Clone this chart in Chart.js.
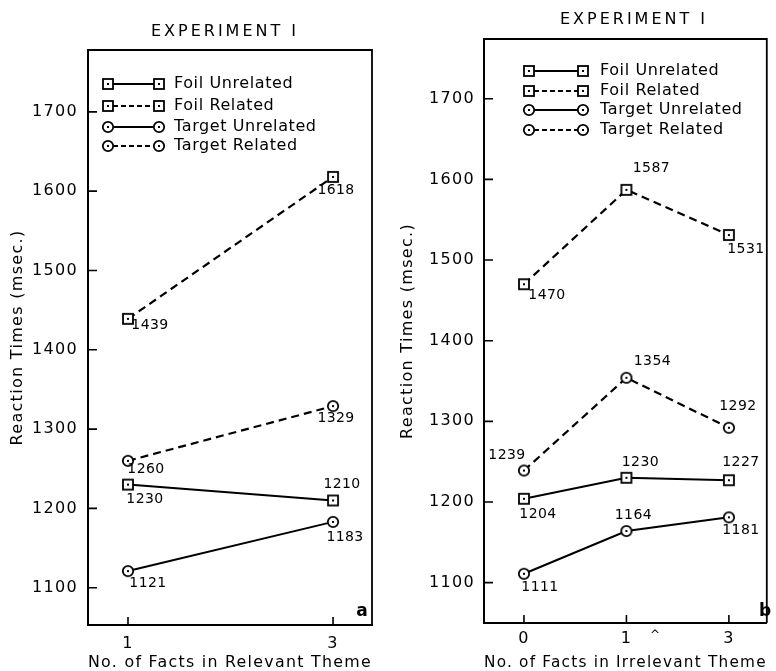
<!DOCTYPE html>
<html>
<head>
<meta charset="utf-8">
<title>Experiment I reaction times</title>
<script src="https://cdn.jsdelivr.net/npm/chart.js@4.4.0/dist/chart.umd.min.js"></script>
<style>
  html, body { margin: 0; padding: 0; background: #fff; }
  #wrap { position: relative; width: 776px; height: 671px; overflow: hidden; }
  canvas { position: absolute; top: 0; }
  #chartA { left: 0; }
  #chartB { left: 390px; }
</style>
</head>
<body>
<div id="wrap">
  <canvas id="chartA" width="390" height="671"></canvas>
  <canvas id="chartB" width="386" height="671"></canvas>
</div>
<script>
// Panel a: facts in the relevant theme
const factsA = ['1', '3'];
const foilUnrelatedA = [1230, 1210];
const foilRelatedA = [1439, 1618];
const targetUnrelatedA = [1121, 1183];
const targetRelatedA = [1260, 1329];

// Panel b: facts in the irrelevant theme
const factsB = ['0', '1', '3'];
const foilUnrelatedB = [1204, 1230, 1227];
const foilRelatedB = [1470, 1587, 1531];
const targetUnrelatedB = [1111, 1164, 1181];
const targetRelatedB = [1239, 1354, 1292];

const yTicks = [1100, 1200, 1300, 1400, 1500, 1600, 1700];
const seriesNames = ['Foil Unrelated', 'Foil Related', 'Target Unrelated', 'Target Related'];

// look of each series (same order as seriesNames)
const seriesStyles = [
    { marker: 'square', dash: [] },
    { marker: 'square', dash: [8, 5] },
    { marker: 'circle', dash: [] },
    { marker: 'circle', dash: [8, 5] }
];

// where each value label sits relative to its point
const labelOffsetsA = [
    [[17, 15], [9, -16]],
    [[22, 6], [3, 13]],
    [[20, 12], [12, 15]],
    [[18, 9], [3, 12]]
];
const labelOffsetsB = [
    [[14, 16], [14, -15], [12, -18]],
    [[23, 11], [25, -21], [17, 14]],
    [[16, 14], [7, -16], [12, 13]],
    [[-17, -15], [26, -16], [9, -21]]
];

const FONT = '"DejaVu Sans", "Liberation Sans", sans-serif';
Chart.defaults.font.family = FONT;
Chart.defaults.color = '#000';

// small marker images: open square / open circle with a centre dot
function makeMarker(shape) {
    const c = document.createElement('canvas');
    c.width = 14;
    c.height = 14;
    const g = c.getContext('2d');
    g.fillStyle = '#fff';
    g.strokeStyle = '#000';
    g.lineWidth = 1.8;
    if (shape === 'square') {
        g.fillRect(2, 2, 10, 10);
        g.strokeRect(2, 2, 10, 10);
    } else {
        g.beginPath();
        g.arc(7, 7, 5.2, 0, Math.PI * 2);
        g.fill();
        g.stroke();
    }
    g.fillStyle = '#000';
    g.fillRect(6, 6, 2, 2);
    return c;
}
const markers = { square: makeMarker('square'), circle: makeMarker('circle') };

function makeDecoPlugin(cfg) {
    return {
        id: 'panelDeco',
        beforeDraw(chart) {
            chart.ctx.letterSpacing = '1.3px';
        },
        beforeDatasetsDraw(chart) {
            const { ctx, chartArea: a, scales } = chart;
            ctx.save();
            ctx.strokeStyle = '#000';
            // top and right edges of the frame
            ctx.lineWidth = 1.8;
            ctx.beginPath();
            ctx.moveTo(a.left, a.top);
            ctx.lineTo(a.right, a.top);
            ctx.lineTo(a.right, a.bottom);
            ctx.stroke();
            // inward tick marks
            ctx.lineWidth = 1.6;
            ctx.beginPath();
            scales.y.ticks.forEach(t => {
                const py = scales.y.getPixelForValue(t.value);
                ctx.moveTo(a.left, py);
                ctx.lineTo(a.left + 9, py);
            });
            scales.x.ticks.forEach(t => {
                const px = scales.x.getPixelForValue(t.value);
                ctx.moveTo(px, a.bottom);
                ctx.lineTo(px, a.bottom - 8);
            });
            ctx.stroke();
            ctx.restore();
        },
        afterDatasetsDraw(chart) {
            const ctx = chart.ctx;
            ctx.save();
            ctx.fillStyle = '#000';
            ctx.font = '14px ' + FONT;
            ctx.letterSpacing = '0.4px';
            ctx.textAlign = 'center';
            ctx.textBaseline = 'middle';
            chart.data.datasets.forEach((ds, s) => {
                const meta = chart.getDatasetMeta(s);
                meta.data.forEach((pt, i) => {
                    const off = cfg.labelOffsets[s][i];
                    ctx.fillText(String(ds.data[i].y), pt.x + off[0], pt.y + off[1]);
                });
            });
            ctx.restore();
        },
        afterDraw(chart) {
            const ctx = chart.ctx;
            const lg = cfg.legend;
            ctx.save();
            ctx.fillStyle = '#000';
            ctx.strokeStyle = '#000';
            ctx.textBaseline = 'middle';

            // legend inside the frame
            seriesNames.forEach((name, s) => {
                const y = lg.rows[s];
                const st = seriesStyles[s];
                ctx.lineWidth = 1.8;
                ctx.setLineDash(st.dash.length ? [5, 3] : []);
                ctx.beginPath();
                ctx.moveTo(lg.x0 + 5, y);
                ctx.lineTo(lg.x1 - 5, y);
                ctx.stroke();
                ctx.setLineDash([]);
                const img = markers[st.marker];
                ctx.drawImage(img, lg.x0 - img.width / 2, y - img.height / 2);
                ctx.drawImage(img, lg.x1 - img.width / 2, y - img.height / 2);
                ctx.font = '16px ' + FONT;
                ctx.letterSpacing = '0.6px';
                ctx.textAlign = 'left';
                ctx.fillText(name, lg.textX, y);
            });

            // panel heading
            ctx.font = '16px ' + FONT;
            ctx.letterSpacing = '3px';
            ctx.textAlign = 'center';
            ctx.fillText(cfg.title, cfg.titleX, cfg.titleY);

            // panel letter
            ctx.font = 'bold 17px ' + FONT;
            ctx.letterSpacing = '0px';
            ctx.fillText(cfg.letter, cfg.letterX, cfg.letterY);

            // stray mark under the axis
            if (cfg.mark) {
                ctx.font = '12px ' + FONT;
                ctx.fillText(cfg.mark.text, cfg.mark.x, cfg.mark.y);
            }
            ctx.restore();
        }
    };
}

function buildChart(id, cats, values, cfg) {
    const datasets = values.map((vals, s) => ({
        label: seriesNames[s],
        data: vals.map((v, i) => ({ x: i, y: v })),
        borderColor: '#000',
        backgroundColor: '#fff',
        borderWidth: seriesStyles[s].dash.length ? 2.2 : 2,
        borderDash: seriesStyles[s].dash,
        pointStyle: markers[seriesStyles[s].marker],
        pointRadius: 7,
        pointHoverRadius: 7,
        tension: 0,
        fill: false
    }));

    return new Chart(document.getElementById(id), {
        type: 'line',
        data: { datasets },
        options: {
            responsive: false,
            animation: false,
            events: [],
            layout: { padding: cfg.padding },
            scales: {
                x: {
                    type: 'linear',
                    min: cfg.xMin,
                    max: cfg.xMax,
                    afterFit: sc => { sc.height = cfg.xHeight; },
                    afterBuildTicks: sc => { sc.ticks = cats.map((c, i) => ({ value: i })); },
                    ticks: {
                        callback: v => cats[v],
                        padding: cfg.xTickPad,
                        font: { size: 16 },
                        color: '#000',
                        maxRotation: 0,
                        autoSkip: false
                    },
                    grid: { display: true, drawOnChartArea: false, drawTicks: false },
                    border: { color: '#000', width: 2 },
                    title: {
                        display: true,
                        text: cfg.xTitle,
                        color: '#000',
                        font: { size: 16, lineHeight: 1 },
                        padding: { top: 0, bottom: 0 }
                    }
                },
                y: {
                    type: 'linear',
                    min: cfg.yMin,
                    max: cfg.yMax,
                    afterFit: sc => { sc.width = cfg.yWidth; },
                    afterBuildTicks: sc => { sc.ticks = yTicks.map(v => ({ value: v })); },
                    ticks: {
                        callback: v => String(v),
                        padding: cfg.yTickPad,
                        font: { size: 16 },
                        color: '#000'
                    },
                    grid: { display: true, drawOnChartArea: false, drawTicks: false },
                    border: { color: '#000', width: 2 },
                    title: {
                        display: true,
                        text: 'Reaction Times (msec.)',
                        color: '#000',
                        font: { size: 16 },
                        padding: { top: 8, bottom: 0 }
                    }
                }
            },
            plugins: {
                legend: { display: false },
                tooltip: { enabled: false }
            }
        },
        plugins: [makeDecoPlugin(cfg)]
    });
}

buildChart('chartA', factsA,
    [foilUnrelatedA, foilRelatedA, targetUnrelatedA, targetRelatedA], {
    padding: { top: 50, right: 18, left: 0, bottom: 0 },
    xMin: -0.195, xMax: 1.19, xHeight: 46, xTickPad: 9,
    yMin: 1053, yMax: 1778, yWidth: 88, yTickPad: 10,
    xTitle: 'No. of Facts in Relevant Theme',
    labelOffsets: labelOffsetsA,
    legend: { x0: 108, x1: 159, textX: 174, rows: [84, 106, 127, 146] },
    title: 'EXPERIMENT I', titleX: 225, titleY: 32,
    letter: 'a', letterX: 362, letterY: 612
});

buildChart('chartB', factsB,
    [foilUnrelatedB, foilRelatedB, targetUnrelatedB, targetRelatedB], {
    padding: { top: 39, right: 3, left: 0, bottom: 0 },
    xMin: -0.39, xMax: 2.37, xHeight: 48, xTickPad: 6,
    yMin: 1050, yMax: 1774, yWidth: 94, yTickPad: 9,
    xTitle: 'No. of Facts in Irrelevant Theme',
    labelOffsets: labelOffsetsB,
    legend: { x0: 139, x1: 193, textX: 210, rows: [71, 91, 110, 130] },
    title: 'EXPERIMENT I', titleX: 244, titleY: 20,
    letter: 'b', letterX: 375, letterY: 612,
    mark: { text: '^', x: 265, y: 636 }
});
</script>
</body>
</html>
